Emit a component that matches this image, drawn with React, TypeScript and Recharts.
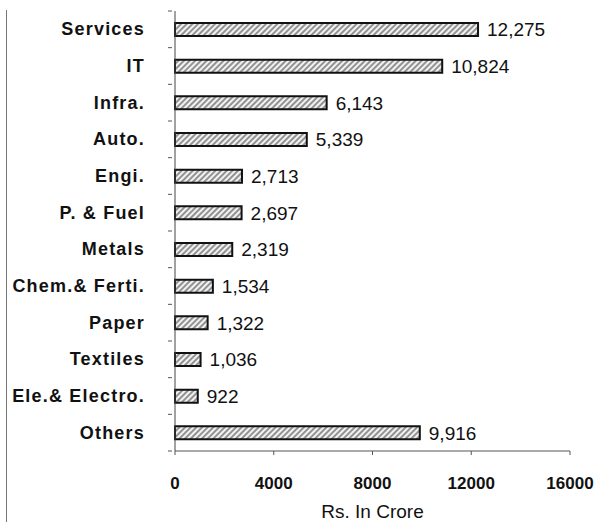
import React from 'react';
import { BarChart, Bar, XAxis, YAxis, LabelList } from 'recharts';

const sectors = [
  'Services',
  'IT',
  'Infra.',
  'Auto.',
  'Engi.',
  'P. & Fuel',
  'Metals',
  'Chem.& Ferti.',
  'Paper',
  'Textiles',
  'Ele.& Electro.',
  'Others',
];
const amounts = [12275, 10824, 6143, 5339, 2713, 2697, 2319, 1534, 1322, 1036, 922, 9916];
const xTicks = [0, 4000, 8000, 12000, 16000];

const data = sectors.map((name, i) => ({ name, value: amounts[i] }));

const FONT = '"Liberation Sans", Arial, Helvetica, sans-serif';
const W = 599;
const H = 522;
const MARGIN = { top: 11, right: 29, left: 0, bottom: 0 };
const X_AXIS_H = 71;
const PLOT_H = H - MARGIN.top - MARGIN.bottom - X_AXIS_H;
const HALF_BAND = PLOT_H / sectors.length / 2;

// category label plus a small tick mark at the top edge of each band
const SectorTick = (props: any) => {
  const { x, y, payload, index } = props;
  return (
    <g>
      <text
        x={x - 22}
        y={y}
        dy={6}
        textAnchor="end"
        fontFamily={FONT}
        fontSize={18}
        fontWeight={700}
        letterSpacing={1.2}
        fill="#111"
      >
        {payload.value}
      </text>
      <line x1={x + 1} x2={x + 5} y1={y - HALF_BAND} y2={y - HALF_BAND} stroke="#555" strokeWidth={1} />
      {index === sectors.length - 1 && (
        <line x1={x + 1} x2={x + 5} y1={y + HALF_BAND} y2={y + HALF_BAND} stroke="#555" strokeWidth={1} />
      )}
    </g>
  );
};

export default function App() {
  return (
    <div style={{ position: 'absolute', left: 0, top: 0, width: W, height: H, background: '#fff', overflow: 'hidden' }}>
      {/* scanned page frame on the left */}
      <div
        style={{
          position: 'absolute',
          left: 6,
          top: 10,
          width: 300,
          height: 526,
          borderLeft: '1.5px solid #777',
          borderBottom: '1.5px solid #777',
          borderBottomLeftRadius: 16,
        }}
      />
      <BarChart
        width={W}
        height={H}
        data={data}
        layout="vertical"
        margin={MARGIN}
        barCategoryGap={0}
        style={{ position: 'absolute', left: 0, top: 0 }}
      >
        <defs>
          <pattern id="hatch" patternUnits="userSpaceOnUse" width={4} height={4} patternTransform="rotate(45)">
            <rect width={4} height={4} fill="#f2f2f2" />
            <line x1={1} y1={0} x2={1} y2={4} stroke="#6a6a6a" strokeWidth={1.4} />
          </pattern>
        </defs>
        <XAxis
          type="number"
          domain={[0, 16000]}
          ticks={xTicks}
          interval={0}
          height={X_AXIS_H}
          stroke="#555"
          tickSize={4}
          tickMargin={22}
          tick={{ fontFamily: FONT, fontSize: 17, fontWeight: 700, fill: '#111' }}
          label={{
            value: 'Rs. In Crore',
            position: 'insideBottom',
            offset: 4,
            style: { fontFamily: FONT, fontSize: 19, fill: '#111' },
          }}
        />
        <YAxis
          type="category"
          dataKey="name"
          width={175}
          stroke="#444"
          tickLine={false}
          tick={<SectorTick />}
          interval={0}
        />
        <Bar
          dataKey="value"
          barSize={13}
          fill="url(#hatch)"
          stroke="#111"
          strokeWidth={2}
          isAnimationActive={false}
        >
          <LabelList
            dataKey="value"
            position="right"
            offset={9}
            formatter={(v: any) => Number(v).toLocaleString('en-US')}
            style={{ fontFamily: FONT, fontSize: 19, fill: '#111' }}
          />
        </Bar>
      </BarChart>
    </div>
  );
}
